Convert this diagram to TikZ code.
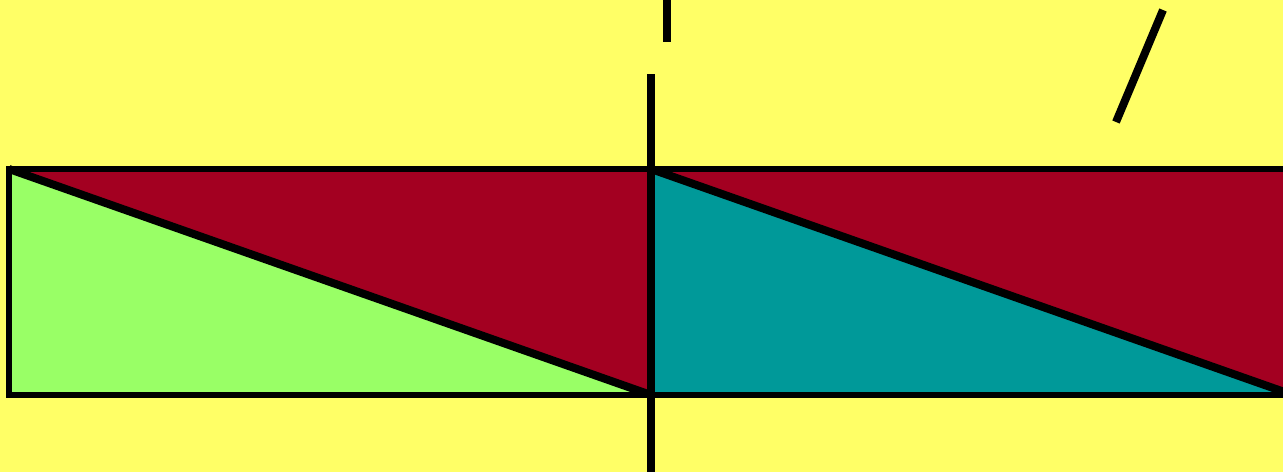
\documentclass[tikz,border=0pt]{standalone}
\usepackage{xcolor}
\definecolor{bgy}{HTML}{FFFF66}
\definecolor{lgreen}{HTML}{99FF66}
\definecolor{dred}{HTML}{A30021}
\definecolor{tealc}{HTML}{009999}
\usetikzlibrary{calc}
\tikzset{
  edge/.style={draw=black,line width=6*0.2mm,line join=miter},
  diag/.style={draw=black,line width=8*0.2mm},
  tick/.style={draw=black,line width=8*0.2mm},
}
\begin{document}
\begin{tikzpicture}[x=0.2mm,y=-0.2mm]
\useasboundingbox (0,0) rectangle (1283,472);
\fill[bgy] (0,0) rectangle (1283,472);
\clip (0,0) rectangle (1283,472);
% corners of the strip
\coordinate (tl) at (9,169);
\coordinate (tm) at (651,169);
\coordinate (tr) at (1293,169);
\coordinate (bl) at (9,395);
\coordinate (bm) at (651,395);
\coordinate (br) at (1293,395);
% left half
\fill[lgreen] (tl) -- (bm) -- (bl) -- cycle;
\fill[dred] (tl) -- (tm) -- (bm) -- cycle;
% right half
\fill[tealc] (tm) -- (br) -- (bm) -- cycle;
\fill[dred] (tm) -- (tr) -- (br) -- cycle;
\draw[diag] (tl) -- (bm);
\draw[diag] (tm) -- (br);
\draw[edge] (br) -- (bl) -- (tl) -- (tr);
% marks
\coordinate (vt) at (651,74);
\coordinate (vb) at (651,472);
\draw[tick] (vt) -- (vb);
\coordinate (st) at (667,0);
\coordinate (sb) at (667,42);
\draw[tick] (st) -- (sb);
\coordinate (ot) at (1163,10);
\coordinate (ob) at (1116,122);
\draw[tick] (ot) -- (ob);
\end{tikzpicture}
\end{document}
